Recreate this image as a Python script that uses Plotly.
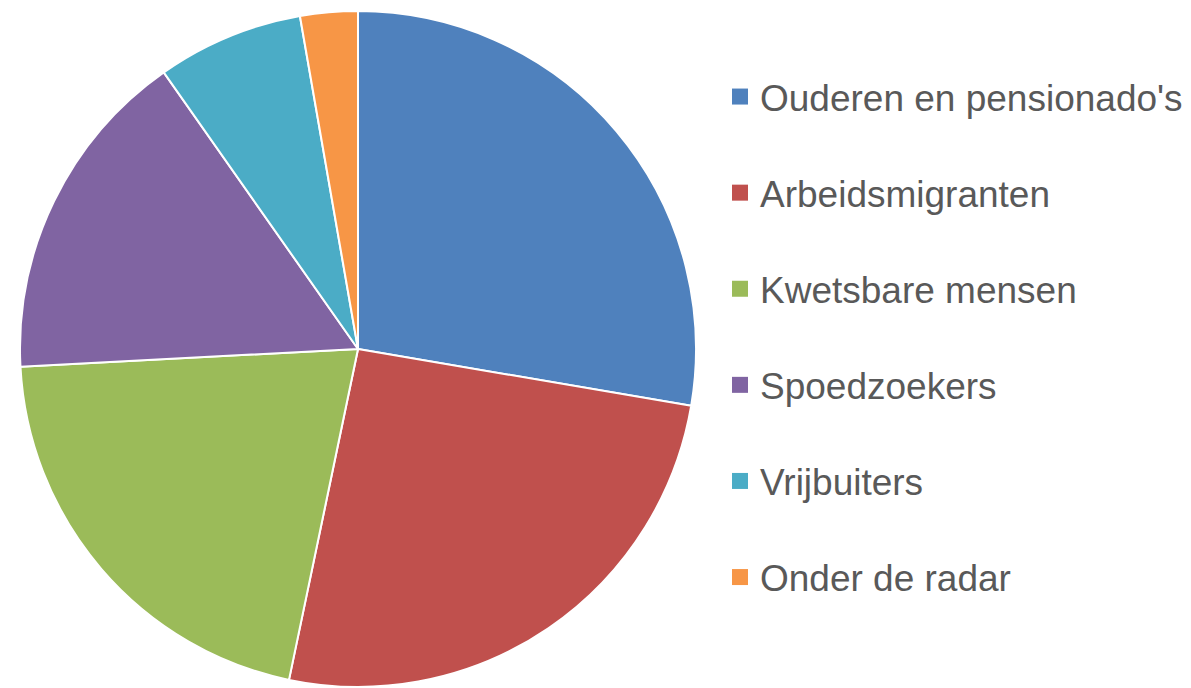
import plotly.graph_objects as go

categories = ["Ouderen en pensionado's", "Arbeidsmigranten", "Kwetsbare mensen",
              "Spoedzoekers", "Vrijbuiters", "Onder de radar"]
values = [27.7, 25.6, 20.9, 16.1, 7.0, 2.75]
colors = ["#4F81BD", "#C0504D", "#9BBB59", "#8064A2", "#4BACC6", "#F79646"]

W, H = 1191, 688
fig = go.Figure()
fig.add_trace(go.Pie(
    labels=categories, values=values, sort=False, direction="clockwise",
    rotation=0, textinfo="none", showlegend=False,
    marker=dict(colors=colors, line=dict(color="white", width=2)),
    domain=dict(x=[12 / W, 688 / W], y=[9 / H, 685 / H]),
))
for i, (c, col) in enumerate(zip(categories, colors)):
    fig.add_trace(go.Scatter(
        x=[None], y=[None], mode="markers", name=c, legendgroup=f"g{i}",
        marker=dict(symbol="square", size=16, color=col),
    ))

fig.update_layout(
    width=W, height=H, margin=dict(l=0, r=0, t=0, b=0),
    paper_bgcolor="white", plot_bgcolor="white",
    xaxis=dict(visible=False), yaxis=dict(visible=False),
    legend=dict(x=712 / W, y=1 - 58 / H, xanchor="left", yanchor="top",
                font=dict(family="Liberation Sans, Arial", size=37, color="#595959"),
                itemsizing="trace", tracegroupgap=45, bgcolor="rgba(0,0,0,0)"),
)
fig.write_html("out.html")
